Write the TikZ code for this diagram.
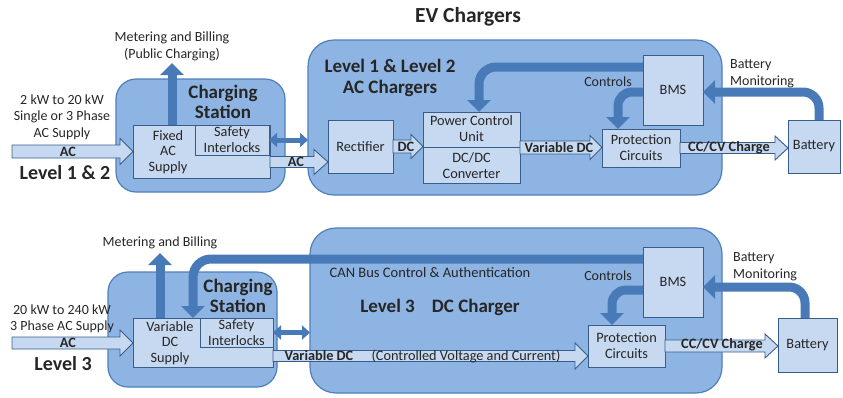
\documentclass[tikz,border=0pt]{standalone}
\usepackage{fontspec}
\setmainfont{Carlito}
\usetikzlibrary{arrows.meta,calc}

\definecolor{outerfill}{RGB}{141,180,226}
\definecolor{outeredge}{RGB}{79,127,186}
\definecolor{innerfill}{RGB}{198,217,241}
\definecolor{inneredge}{RGB}{56,93,138}
\definecolor{arrowblue}{RGB}{72,122,183}
\definecolor{txt}{RGB}{38,38,38}

\tikzset{
  stationbox/.style={draw=outeredge, fill=outerfill, line width=1.2pt,
    rounded corners=20pt, inner sep=0pt, outer sep=0pt},
  chargerbox/.style={stationbox, rounded corners=26pt},
  unit/.style={draw=inneredge, fill=innerfill, line width=1pt, inner sep=0pt,
    outer sep=0pt, align=center, text=txt, font=\fontsize{14.3}{16}\selectfont},
  flow/.style={draw=inneredge, fill=innerfill, line width=0.9pt},
  % horizontal block arrow: shaft half-height / head half-height / head length
  blockarrow/.style args={#1/#2/#3}{to path={
    let \p1=(\tikztostart), \p2=(\tikztotarget) in
    (\x1,\y1+#1) -- (\x2-#3,\y1+#1) -- (\x2-#3,\y1+#2) -- (\x2,\y1)
    -- (\x2-#3,\y1-#2) -- (\x2-#3,\y1-#1) -- (\x1,\y1-#1) -- cycle}},
  signal/.style={draw=arrowblue, line width=9pt, rounded corners=17pt,
    -{Triangle[width=23pt,length=12pt]}},
  link/.style={draw=arrowblue, line width=5pt,
    {Triangle[width=14pt,length=8pt]}-{Triangle[width=14pt,length=8pt]}},
  note/.style={inner sep=0pt, align=center, text=txt, font=\fontsize{14}{16.5}\selectfont},
  flowlab/.style={inner sep=0pt, text=txt, font=\bfseries\fontsize{14.3}{15}\selectfont},
  heading/.style={inner sep=0pt, align=center, text=txt, font=\bfseries\fontsize{19}{20.5}\selectfont},
}

\begin{document}
\begin{tikzpicture}[x=1pt,y=-1pt]
\useasboundingbox (0,0) rectangle (843,397);

\node[heading, font=\bfseries\fontsize{21.5}{24}\selectfont] (title) at (468,17) {EV Chargers};

% ---------------- Level 1 & 2 ----------------
\node[stationbox, minimum width=169pt, minimum height=113pt] (cs1) at (200.5,135.5) {};
\node[chargerbox, minimum width=414pt, minimum height=155pt] (big1) at (515,117.5) {};

\node[heading] (cs1lab) at (223,102) {Charging\\Station};
\node[heading] (big1lab) at (390,78) {Level 1 \& Level 2\\AC Chargers};

\node[unit, minimum width=137pt, minimum height=53pt] (fixed) at (201.5,151.5) {};
\node[unit, minimum width=74pt, minimum height=30pt] (safety1) at (232,140) {Safety\\Interlocks};
\node[note, font=\fontsize{14.3}{15.5}\selectfont] (fixedlab) at (168,152) {Fixed\\AC\\Supply};

\node[unit, minimum width=65pt, minimum height=53pt] (rect) at (360.5,146.5) {Rectifier};
\node[unit, minimum width=97pt, minimum height=71pt] (pcu) at (471.5,147.5) {};
\draw[draw=inneredge, line width=1pt] (pcu.west) -- (pcu.east);
\node[note, font=\fontsize{14.3}{16}\selectfont] (pculab) at (471.5,129) {Power Control\\Unit};
\node[note, font=\fontsize{14.3}{16}\selectfont] (dcdclab) at (471.5,165.5) {DC/DC\\Converter};
\node[unit, minimum width=78pt, minimum height=38pt] (prot) at (641,148) {Protection\\Circuits};
\node[unit, minimum width=60pt, minimum height=70pt] (bms) at (673,90) {BMS};
\node[unit, minimum width=52pt, minimum height=53pt] (batt) at (814,146.5) {Battery};

\node[note] (supply1) at (62,117) {2 kW to 20 kW\\Single or 3 Phase\\AC Supply};
\node[heading, font=\bfseries\fontsize{20}{22}\selectfont] (lev12) at (65,173) {Level 1 \& 2};
\node[note] (meter1lab) at (172,46.5) {Metering and Billing\\(Public Charging)};
\node[note] (ctrl1) at (608,82) {Controls};
\node[note, align=left, anchor=west] (mon1) at (730,73.5) {Battery\\Monitoring};

% power flow
\coordinate (acsrc1) at (12,151.5);
\coordinate (ac2s) at ($(fixed.south east)+(0,-16)$);
\draw[flow] (acsrc1) to[blockarrow=6.5pt/13pt/13pt] (fixed.west);
\draw[flow] (ac2s) to[blockarrow=5.5pt/12.5pt/14pt] (rect.west |- ac2s);
\draw[flow] (rect.east) to[blockarrow=6.5pt/12pt/12pt] (pcu.west);
\draw[flow] (pcu.east) to[blockarrow=6.5pt/12pt/12pt] (prot.west);
\draw[flow] (prot.east) to[blockarrow=5.5pt/12pt/13pt] (batt.west);
\node[flowlab] (acl1) at (68,151.5) {AC};
\node[flowlab] (acl2) at (296,162) {AC};
\node[flowlab] (dcl1) at (406,147) {DC};
\node[flowlab] (vdcl1) at (559,148) {Variable DC};
\node[flowlab] (cccvl1) at (729,148) {CC/CV Charge};

% control and monitoring
\coordinate (meter1) at (172,63);
\draw[signal] ($(fixed.north west)+(39,0)$) -- (meter1);
\draw[signal] ($(bms.north west)+(0,12)$) -| ($(pcu.north west)+(56,0)$);
\draw[signal, rounded corners=14pt] ($(bms.north west)+(0,37)$) -| ($(prot.north west)+(16,0)$);
\draw[signal, rounded corners=16pt] ($(batt.north west)+(31,0)$) |- ($(bms.north east)+(0,37)$);
\draw[link] (safety1.east) -- (big1.west |- safety1.east);

% ---------------- Level 3 ----------------
\node[stationbox, minimum width=169pt, minimum height=115pt] (cs2) at (192.5,329.5) {};
\node[chargerbox, minimum width=412pt, minimum height=165pt] (big2) at (516,310.5) {};

\node[heading] (cs2lab) at (238,296) {Charging\\Station};
\node[note, font=\fontsize{14.5}{15}\selectfont] (canlab) at (430,273) {CAN Bus Control \& Authentication};
\node[heading] (big2lab) at (440,307) {Level 3\hspace{0.9em}DC Charger};

\node[unit, minimum width=140pt, minimum height=49pt] (vdcs) at (203,342.5) {};
\node[unit, minimum width=73pt, minimum height=29pt] (safety2) at (236.5,332.5) {Safety\\Interlocks};
\node[note, font=\fontsize{14.3}{15.5}\selectfont] (vdcslab) at (170,343) {Variable\\DC\\Supply};

\node[unit, minimum width=77pt, minimum height=42pt] (prot2) at (626.5,346) {Protection\\Circuits};
\node[unit, minimum width=60pt, minimum height=70pt] (bms2) at (673,282) {BMS};
\node[unit, minimum width=59pt, minimum height=54pt] (batt2) at (807.5,345) {Battery};

\node[note] (supply2) at (62,319) {20 kW to 240 kW\\3 Phase AC Supply};
\node[heading, font=\bfseries\fontsize{20}{22}\selectfont] (lev3) at (63,364) {Level 3};
\node[note] (meter2lab) at (160,243) {Metering and Billing};
\node[note] (ctrl2) at (608,276) {Controls};
\node[note, align=left, anchor=west] (mon2) at (733,266.5) {Battery\\Monitoring};

% power flow
\coordinate (acsrc2) at (12,343);
\coordinate (vdc2s) at ($(vdcs.south east)+(0,-11)$);
\draw[flow] (acsrc2) to[blockarrow=6pt/13pt/13pt] (vdcs.west);
\draw[flow] (vdc2s) to[blockarrow=5.5pt/13pt/13pt] (prot2.west |- vdc2s);
\draw[flow] (prot2.east) to[blockarrow=6pt/12pt/13pt] (batt2.west);
\node[flowlab] (acl3) at (68,343) {AC};
\node[flowlab] (vdcl2) at (319,356) {Variable DC};
\node[note, font=\fontsize{14.3}{15}\selectfont] (cvcl) at (466,356) {(Controlled Voltage and Current)};
\node[flowlab] (cccvl2) at (722,345) {CC/CV Charge};

% control and monitoring
\coordinate (meter2) at (160,253);
\draw[signal] ($(vdcs.north west)+(27,0)$) -- (meter2);
\draw[signal, rounded corners=18pt] ($(bms2.north west)+(0,12)$) -| ($(vdcs.north west)+(60,0)$);
\draw[signal, rounded corners=14pt] ($(bms2.north west)+(0,43)$) -| ($(prot2.north west)+(24,0)$);
\draw[signal, rounded corners=16pt] ($(batt2.north west)+(27,0)$) |- ($(bms2.north east)+(0,40)$);
\draw[link] (safety2.east) -- (big2.west |- safety2.east);

\end{tikzpicture}
\end{document}
